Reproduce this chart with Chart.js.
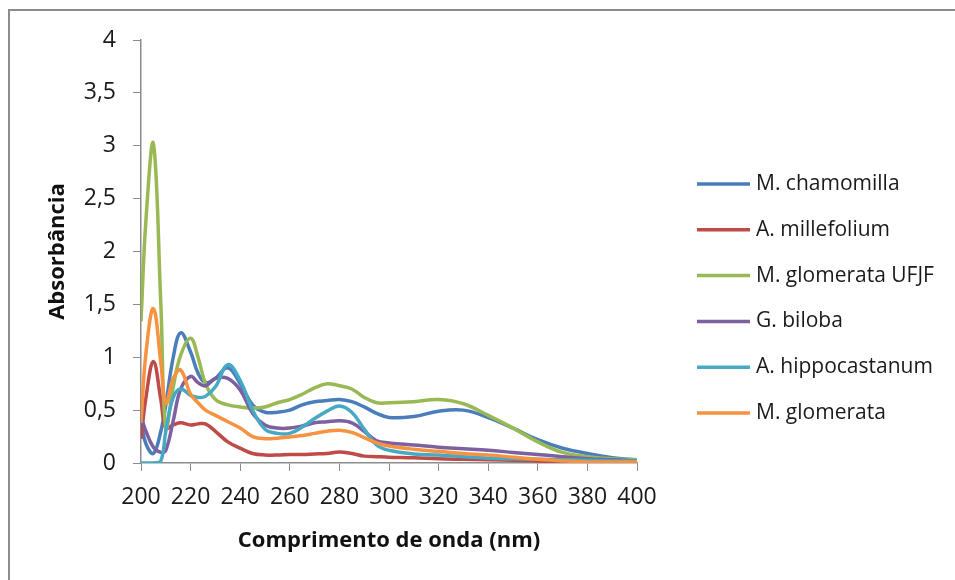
<!DOCTYPE html>
<html>
<head>
<meta charset="utf-8">
<script src="https://cdn.jsdelivr.net/npm/chart.js@4/dist/chart.umd.min.js"></script>
<style>
  body { margin: 0; background: #fff; }
  #wrap { position: relative; width: 955px; height: 580px; }
</style>
</head>
<body>
<div id="wrap"><canvas id="chart-uv" width="955" height="580"></canvas></div>
<script>
// wavelengths (nm) shared by every series
const wavelengths = [200,202,205,208,210,213,216,220,223,226,230,235,240,245,250,255,260,265,270,275,280,285,290,295,300,310,320,330,340,350,360,370,380,390,400];

const chamomilla = [0.39,0.18,0.09,0.30,0.55,1.00,1.23,1.05,0.85,0.76,0.80,0.90,0.75,0.55,0.48,0.48,0.50,0.55,0.58,0.59,0.60,0.58,0.53,0.47,0.43,0.44,0.49,0.50,0.43,0.33,0.22,0.14,0.09,0.05,0.03];
const millefolium = [0.23,0.62,0.96,0.60,0.33,0.36,0.38,0.36,0.37,0.37,0.30,0.20,0.14,0.09,0.076,0.075,0.08,0.08,0.085,0.09,0.105,0.09,0.065,0.06,0.055,0.05,0.04,0.035,0.03,0.025,0.02,0.01,0.0,0.005,0.01];
const glomerataUFJF = [1.34,2.30,3.02,1.50,0.33,0.72,1.02,1.18,1.00,0.75,0.60,0.55,0.53,0.52,0.53,0.57,0.60,0.65,0.71,0.75,0.73,0.70,0.62,0.57,0.57,0.58,0.60,0.56,0.45,0.33,0.20,0.10,0.06,0.04,0.03];
const biloba = [0.44,0.30,0.15,0.10,0.12,0.40,0.70,0.82,0.76,0.73,0.80,0.80,0.69,0.47,0.36,0.33,0.33,0.35,0.38,0.39,0.40,0.38,0.30,0.21,0.19,0.17,0.15,0.135,0.12,0.10,0.08,0.06,0.04,0.03,0.02];
const hippocastanum = [0,0,0,0.02,0.30,0.62,0.70,0.64,0.62,0.63,0.72,0.93,0.78,0.50,0.32,0.28,0.28,0.34,0.42,0.49,0.54,0.48,0.32,0.17,0.12,0.085,0.075,0.06,0.045,0.04,0.035,0.03,0.025,0.02,0.02];
const glomerata = [0.38,1.04,1.46,0.95,0.56,0.80,0.88,0.65,0.57,0.50,0.45,0.39,0.33,0.25,0.23,0.235,0.245,0.26,0.28,0.30,0.31,0.29,0.24,0.19,0.16,0.13,0.11,0.09,0.075,0.055,0.035,0.02,0.01,0.01,0.01];

const seriesNames = ['M. chamomilla','A. millefolium','M. glomerata UFJF','G. biloba','A. hippocastanum','M. glomerata'];
const seriesValues = [chamomilla, millefolium, glomerataUFJF, biloba, hippocastanum, glomerata];
const seriesColors = ['#4A7EBB','#BE4B48','#98B954','#7D60A0','#46AAC5','#F69240'];

const FONT = '"Open Sans", "Liberation Sans", sans-serif';

const datasets = seriesNames.map(function(name, i) {
    return {
        label: name,
        data: wavelengths.map(function(w, j) { return {x: w, y: seriesValues[i][j]}; }),
        borderColor: seriesColors[i],
        backgroundColor: seriesColors[i],
        borderWidth: 3.5,
        pointRadius: 0,
        tension: 0.4,
        fill: false,
        order: seriesNames.length - i   // later series drawn on top, like Excel
    };
});

// legend on the right + outer frame (only top/left edges show in the crop)
const sideLegend = {
    id: 'sideLegend',
    beforeDraw(chart) {
        const c = chart.ctx;
        c.save();
        c.strokeStyle = '#8c8c8c';
        c.lineWidth = 2;
        c.beginPath();
        c.moveTo(9, 580);
        c.lineTo(9, 10);
        c.lineTo(955, 10);
        c.stroke();
        c.restore();
    },
    afterDraw(chart) {
        const c = chart.ctx;
        c.save();
        c.font = '21px ' + FONT;
        c.textBaseline = 'middle';
        c.fillStyle = '#1a1a1a';
        seriesNames.forEach(function(name, i) {
            const y = 184 + i * 45.8;
            c.strokeStyle = seriesColors[i];
            c.lineWidth = 3.5;
            c.beginPath();
            c.moveTo(697, y);
            c.lineTo(750, y);
            c.stroke();
            c.fillText(name, 756, y);
        });
        c.restore();
    }
};

new Chart(document.getElementById('chart-uv'), {
    type: 'line',
    data: { datasets: datasets },
    options: {
        responsive: false,
        animation: false,
        devicePixelRatio: 1,
        layout: { padding: { left: 0, top: 40, right: 318, bottom: 0 } },
        plugins: {
            legend: { display: false },
            tooltip: { enabled: false }
        },
        scales: {
            x: {
                type: 'linear',
                min: 200,
                max: 400,
                afterFit: function(s) { s.height = 117; },
                ticks: { stepSize: 20, color: '#1a1a1a', padding: 13, font: { family: FONT, size: 23 } },
                grid: { drawOnChartArea: false, tickLength: 8, color: '#8c8c8c' },
                border: { color: '#8c8c8c', width: 1.5 },
                title: { display: true, text: 'Comprimento de onda (nm)', color: '#111',
                         font: { family: FONT, size: 22, weight: 'bold' }, padding: { top: 0, bottom: 26 } }
            },
            y: {
                min: 0,
                max: 4,
                afterFit: function(s) { s.width = 141; },
                ticks: {
                    stepSize: 0.5, color: '#1a1a1a', padding: 17,
                    font: { family: FONT, size: 23 },
                    callback: function(v) { return String(v).replace('.', ','); }
                },
                grid: { drawOnChartArea: false, tickLength: 8, color: '#8c8c8c' },
                border: { color: '#8c8c8c', width: 1.5 },
                title: { display: true, text: 'Absorbância', color: '#111',
                         font: { family: FONT, size: 22, weight: 'bold' }, padding: { top: 45, bottom: 0 } }
            }
        }
    },
    plugins: [sideLegend]
});
</script>
</body>
</html>
